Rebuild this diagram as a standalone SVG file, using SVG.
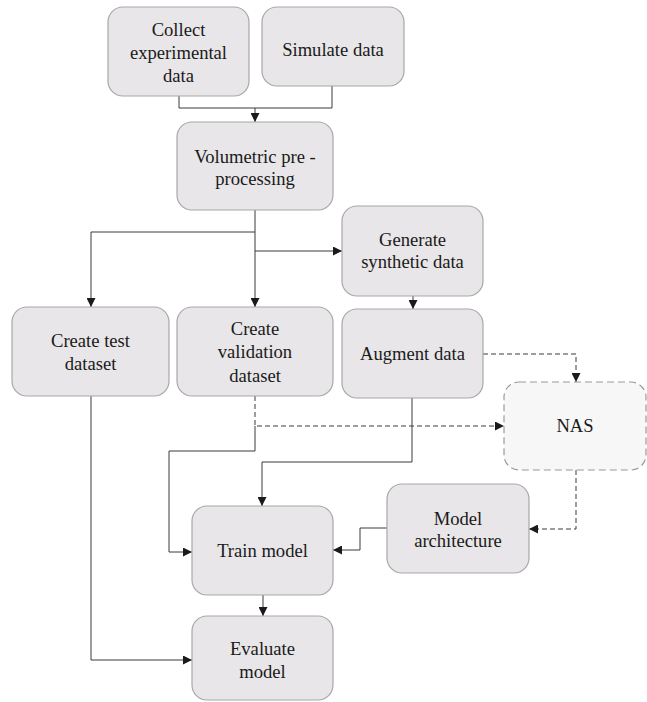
<svg xmlns="http://www.w3.org/2000/svg" width="647" height="702" viewBox="0 0 647 702" font-family="Liberation Serif, Times New Roman, serif">
  <style>
    .box { fill: #e8e6e8; stroke: #a8a8a8; stroke-width: 1.2; }
    .nas { fill: #f7f7f7; stroke: #9a9a9a; stroke-width: 1.2; stroke-dasharray: 7 4; }
    .lbl { font-size: 18.6px; fill: #1a1a1a; text-anchor: middle; }
    .ln { fill: none; stroke: #3a3a3a; stroke-width: 1; }
    .dash { stroke-dasharray: 5 3; }
  </style>
  <defs>
    <marker id="ah" viewBox="0 0 10 10" refX="10" refY="5" markerWidth="9" markerHeight="9" markerUnits="userSpaceOnUse" orient="auto">
      <path d="M0,0 L10,5 L0,10 Z" fill="#1a1a1a"/>
    </marker>
  </defs>

  <g id="connectors">
    <!-- sources merge into pre-processing -->
    <path class="ln" d="M179,96 V108 H332 V86"/>
    <path class="ln" d="M255,108 V122" marker-end="url(#ah)"/>
    <!-- pre-processing fan-out -->
    <path class="ln" d="M255,210 V232 H91 V307" marker-end="url(#ah)"/>
    <path class="ln" d="M255,232 V307" marker-end="url(#ah)"/>
    <path class="ln" d="M255,251 H342" marker-end="url(#ah)"/>
    <!-- synthetic to augment -->
    <path class="ln" d="M413,296 V309" marker-end="url(#ah)"/>
    <!-- augment to NAS (dashed) -->
    <path class="ln dash" d="M483,354 H576 V382" marker-end="url(#ah)"/>
    <!-- validation to NAS (dashed) -->
    <path class="ln dash" d="M255,396 V426 H504" marker-end="url(#ah)"/>
    <!-- validation to train -->
    <path class="ln" d="M255,426 V451 H169 V552 H192" marker-end="url(#ah)"/>
    <!-- augment to train -->
    <path class="ln" d="M412,398 V462 H262 V506" marker-end="url(#ah)"/>
    <!-- NAS to architecture (dashed) -->
    <path class="ln dash" d="M576,470 V529 H529" marker-end="url(#ah)"/>
    <!-- architecture to train -->
    <path class="ln" d="M387,528 H360 V550 H333" marker-end="url(#ah)"/>
    <!-- train to evaluate -->
    <path class="ln" d="M263,595 V616" marker-end="url(#ah)"/>
    <!-- test dataset to evaluate -->
    <path class="ln" d="M91,396 V660 H192" marker-end="url(#ah)"/>
  </g>

  <g id="collect">
    <rect class="box" x="108" y="7" width="141" height="89" rx="15"/>
    <text class="lbl" x="178.5" y="36">Collect</text>
    <text class="lbl" x="178.5" y="59">experimental</text>
    <text class="lbl" x="178.5" y="82">data</text>
  </g>
  <g id="simulate">
    <rect class="box" x="262" y="7" width="142" height="79" rx="15"/>
    <text class="lbl" x="333" y="56">Simulate data</text>
  </g>
  <g id="preprocess">
    <rect class="box" x="177" y="122" width="156" height="88" rx="15"/>
    <text class="lbl" x="255" y="163">Volumetric pre -</text>
    <text class="lbl" x="255" y="185">processing</text>
  </g>
  <g id="synthetic">
    <rect class="box" x="342" y="206" width="141" height="90" rx="15"/>
    <text class="lbl" x="412.5" y="246">Generate</text>
    <text class="lbl" x="412.5" y="268">synthetic data</text>
  </g>
  <g id="testset">
    <rect class="box" x="12" y="307" width="157" height="89" rx="15"/>
    <text class="lbl" x="90.5" y="347">Create test</text>
    <text class="lbl" x="90.5" y="370">dataset</text>
  </g>
  <g id="validation">
    <rect class="box" x="177" y="307" width="156" height="89" rx="15"/>
    <text class="lbl" x="255" y="335">Create</text>
    <text class="lbl" x="255" y="358">validation</text>
    <text class="lbl" x="255" y="382">dataset</text>
  </g>
  <g id="augment">
    <rect class="box" x="342" y="309" width="141" height="89" rx="15"/>
    <text class="lbl" x="412.5" y="360">Augment data</text>
  </g>
  <g id="nas">
    <rect class="nas" x="504" y="382" width="142" height="88" rx="15"/>
    <text class="lbl" x="575" y="432">NAS</text>
  </g>
  <g id="architecture">
    <rect class="box" x="387" y="484" width="142" height="89" rx="15"/>
    <text class="lbl" x="458" y="525">Model</text>
    <text class="lbl" x="458" y="547">architecture</text>
  </g>
  <g id="train">
    <rect class="box" x="192" y="506" width="141" height="89" rx="15"/>
    <text class="lbl" x="262.5" y="557">Train model</text>
  </g>
  <g id="evaluate">
    <rect class="box" x="192" y="616" width="141" height="84" rx="15"/>
    <text class="lbl" x="262.5" y="655">Evaluate</text>
    <text class="lbl" x="262.5" y="678">model</text>
  </g>
</svg>
